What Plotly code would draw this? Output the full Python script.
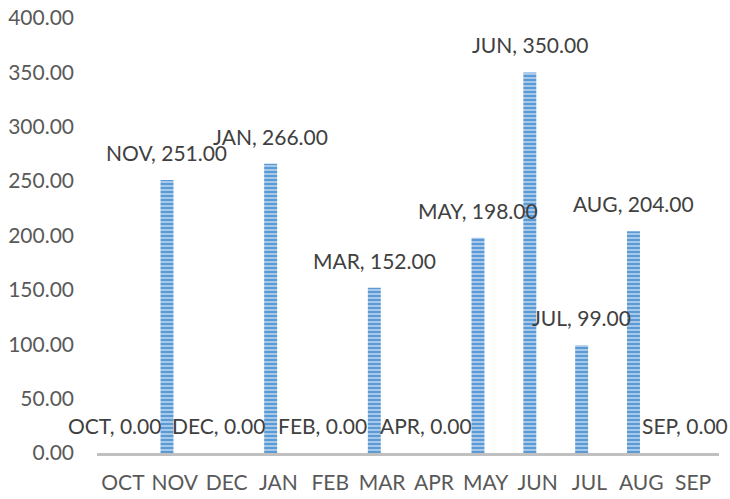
import plotly.graph_objects as go

months = ["OCT", "NOV", "DEC", "JAN", "FEB", "MAR", "APR", "MAY", "JUN", "JUL", "AUG", "SEP"]
values = [0, 251, 0, 266, 0, 152, 0, 198, 350, 99, 204, 0]
y_ticks = [0, 50, 100, 150, 200, 250, 300, 350, 400]

FONT = "Lato"
fig = go.Figure()
fig.add_trace(go.Bar(
    x=months, y=values,
    offset=-0.275, width=0.25,
    marker=dict(
        color="#5b9bd5",
        line=dict(width=0),
        pattern=dict(shape="-", size=4, solidity=0.5,
                     fgcolor="#5b9bd5", bgcolor="#a8c8ea", fillmode="replace"),
    ),
    hoverinfo="skip",
))

for m, v in zip(months, values):
    fig.add_annotation(
        x=m, y=v, text=f"{m}, {v:.2f}", showarrow=False,
        xanchor="center", yanchor="bottom", xshift=-8, yshift=13,
        font=dict(family=FONT, size=21, color="#404040"),
    )

fig.update_layout(
    width=730, height=499,
    margin=dict(l=97, r=11, t=18, b=46, autoexpand=False),
    plot_bgcolor="white", paper_bgcolor="white",
    showlegend=False,
    font=dict(family=FONT, size=21, color="#595959"),
)
fig.update_xaxes(
    type="category", range=[-0.5, 11.5],
    showline=True, linecolor="#c0c0c0", linewidth=3,
    showgrid=False, ticks="", ticklabelstandoff=9, automargin=False,
    tickfont=dict(family=FONT, size=21, color="#595959"),
)
fig.update_yaxes(
    range=[0, 400], tickvals=y_ticks, tickformat=".2f",
    showgrid=False, zeroline=False, showline=False, ticks="",
    ticklabelstandoff=22, automargin=False, ticklabeloverflow="allow",
    tickfont=dict(family=FONT, size=21, color="#595959"),
)

# remove the page's default body margin so the figure fills the window exactly
fig.write_html(
    "out.html",
    config={"displayModeBar": False, "staticPlot": True},
    post_script="document.body.style.margin='0';document.body.style.overflow='hidden';",
)
